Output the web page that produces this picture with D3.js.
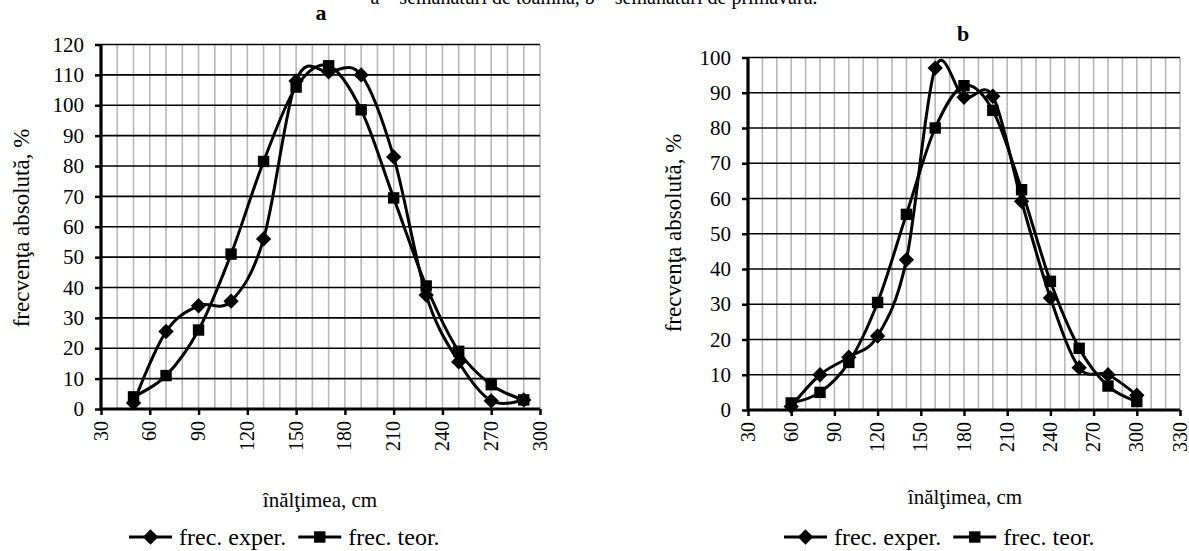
<!DOCTYPE html>
<html>
<head>
<meta charset="utf-8">
<script src="https://cdn.jsdelivr.net/npm/d3@7"></script>
<style>
  body { margin: 0; background: #fff; }
  svg { display: block; font-family: "Liberation Serif", "Times New Roman", serif; }
  text { font-family: "Liberation Serif", "Times New Roman", serif; }
</style>
</head>
<body>
<svg id="chart" width="1189" height="551"></svg>
<script>
// values
var xA = [50, 70, 90, 110, 130, 150, 170, 190, 210, 230, 250, 270, 290]
var experA = [2, 25.5, 34, 35.5, 56, 108, 111, 110, 83, 37.5, 15.5, 2.7, 3]
var teorA = [4, 11, 26, 51, 81.5, 106, 113, 98.5, 69.5, 40.5, 19, 8, 3]

var xB = [60, 80, 100, 120, 140, 160, 180, 200, 220, 240, 260, 280, 300]
var experB = [1, 10, 15, 21, 42.6, 97, 88.7, 89, 59.2, 31.8, 12, 10, 4.2]
var teorB = [2, 5, 13.5, 30.5, 55.5, 80, 92, 85, 62.5, 36.5, 17.5, 6.8, 2.4]

var ticksA = [30, 60, 90, 120, 150, 180, 210, 240, 270, 300]
var ticksB = [30, 60, 90, 120, 150, 180, 210, 240, 270, 300, 330]

var seriesNames = ['frec. exper.', 'frec. teor.']

var svg = d3.select('#chart')

// caption, cut by the top edge as in the source
svg.append('text')
  .attr('x', 594)
  .attr('y', 4)
  .attr('text-anchor', 'middle')
  .attr('style', 'font-size: 20px;')
  .text('a \u2013 sem\u0103n\u0103turi de toamn\u0103, b \u2013 sem\u0103n\u0103turi de prim\u0103var\u0103.')

function drawPanel ({ title, titleX, titleY, xs, exper, teor, xDomain, xRange, yMax, yRange, xTicks, yLabelX, yLabelY, xLabelX, xLabelY, legendX, legendY }) {
  var x = d3.scaleLinear().domain(xDomain).range(xRange)
  var y = d3.scaleLinear().domain([0, yMax]).range(yRange)
  var g = svg.append('g')

  // minor vertical grid, gray
  var vgrid = d3.range(xDomain[0] + 10, xDomain[1] + 1, 10)
  g.selectAll('.vg').data(vgrid).enter().append('line')
    .attr('x1', d => x(d)).attr('x2', d => x(d))
    .attr('y1', y(0)).attr('y2', y(yMax))
    .attr('stroke', '#b8b8b8').attr('stroke-width', 1.6)

  // horizontal grid, black
  var hgrid = d3.range(10, yMax + 1, 10)
  g.selectAll('.hg').data(hgrid).enter().append('line')
    .attr('x1', x(xDomain[0])).attr('x2', x(xDomain[1]))
    .attr('y1', d => y(d)).attr('y2', d => y(d))
    .attr('stroke', '#000').attr('stroke-width', 1.6)

  // axes
  var xAxis = d3.axisBottom(x).tickValues(xTicks).tickSize(6).tickFormat(d3.format('d'))
  var gx = g.append('g').attr('transform', 'translate(0,' + y(0) + ')').call(xAxis)
  gx.attr('font-family', null).attr('font-size', null)
  gx.select('.domain').attr('stroke-width', 3.2).attr('d', 'M' + x(xDomain[0]) + ',0H' + x(xDomain[1]))
  gx.selectAll('.tick line').attr('stroke-width', 2.5)
  gx.selectAll('.tick text')
    .attr('transform', 'rotate(-90)')
    .attr('text-anchor', 'end')
    .attr('x', -12).attr('y', 0).attr('dy', '0.3em')
    .attr('fill', '#000')
    .attr('style', 'font-size: 20px;')

  var yAxis = d3.axisLeft(y).tickValues(d3.range(0, yMax + 1, 10)).tickSize(6)
  var gy = g.append('g').attr('transform', 'translate(' + x(xDomain[0]) + ',0)').call(yAxis)
  gy.attr('font-family', null).attr('font-size', null)
  gy.select('.domain').attr('stroke-width', 3.2).attr('d', 'M0,' + y(0) + 'V' + y(yMax))
  gy.selectAll('.tick line').attr('stroke-width', 2.5)
  gy.selectAll('.tick text')
    .attr('x', -17)
    .attr('fill', '#000')
    .attr('style', 'font-size: 21px;')

  // curves
  var line = d3.line().x(d => x(d[0])).y(d => y(d[1])).curve(d3.curveCardinal.tension(0))
  var dExp = xs.map((v, i) => [v, exper[i]])
  var dTeo = xs.map((v, i) => [v, teor[i]])
  ;[dExp, dTeo].forEach(function (pts) {
    g.append('path').attr('d', line(pts))
      .attr('fill', 'none').attr('stroke', '#000').attr('stroke-width', 3)
  })

  var diamond = d3.symbol().type(d3.symbolDiamond2).size(150)
  var square = d3.symbol().type(d3.symbolSquare).size(130)
  g.selectAll('.dm').data(dExp).enter().append('path')
    .attr('d', diamond).attr('transform', d => 'translate(' + x(d[0]) + ',' + y(d[1]) + ')')
  g.selectAll('.sq').data(dTeo).enter().append('path')
    .attr('d', square).attr('transform', d => 'translate(' + x(d[0]) + ',' + y(d[1]) + ')')

  // title
  g.append('text').attr('x', titleX).attr('y', titleY)
    .attr('text-anchor', 'middle')
    .attr('style', 'font-size: 22px; font-weight: bold;')
    .text(title)

  // axis titles
  g.append('text')
    .attr('transform', 'translate(' + yLabelX + ',' + yLabelY + ') rotate(-90)')
    .attr('text-anchor', 'middle')
    .attr('style', 'font-size: 23px;')
    .text('frecven\u0163a absolut\u0103, %')

  g.append('text').attr('x', xLabelX).attr('y', xLabelY)
    .attr('text-anchor', 'middle')
    .attr('style', 'font-size: 21px;')
    .text('\u00een\u0103l\u0163imea, cm')

  // legend
  var lg = g.append('g').attr('transform', 'translate(' + legendX + ',' + legendY + ')')
  var off = 0
  seriesNames.forEach(function (name, i) {
    var item = lg.append('g').attr('transform', 'translate(' + off + ',0)')
    item.append('line').attr('x1', 0).attr('x2', 43).attr('y1', 0).attr('y2', 0)
      .attr('stroke', '#000').attr('stroke-width', 3.2)
    item.append('path').attr('d', i === 0 ? diamond : square).attr('transform', 'translate(21.5,0)')
    var t = item.append('text').attr('x', 50).attr('y', 0).attr('dy', '0.33em')
      .attr('style', 'font-size: 24px;').text(name)
    off += 50 + t.node().getComputedTextLength() + 12
  })
}

drawPanel({
  title: 'a', titleX: 321, titleY: 20,
  xs: xA, exper: experA, teor: teorA,
  xDomain: [30, 300], xRange: [101, 540],
  yMax: 120, yRange: [409, 44.5],
  xTicks: ticksA,
  yLabelX: 29, yLabelY: 228,
  xLabelX: 320, xLabelY: 507,
  legendX: 129, legendY: 537
})

drawPanel({
  title: 'b', titleX: 963, titleY: 41,
  xs: xB, exper: experB, teor: teorB,
  xDomain: [30, 330], xRange: [748, 1180],
  yMax: 100, yRange: [410, 57.5],
  xTicks: ticksB,
  yLabelX: 681, yLabelY: 233,
  xLabelX: 965, xLabelY: 504,
  legendX: 784, legendY: 537
})
</script>
</body>
</html>
